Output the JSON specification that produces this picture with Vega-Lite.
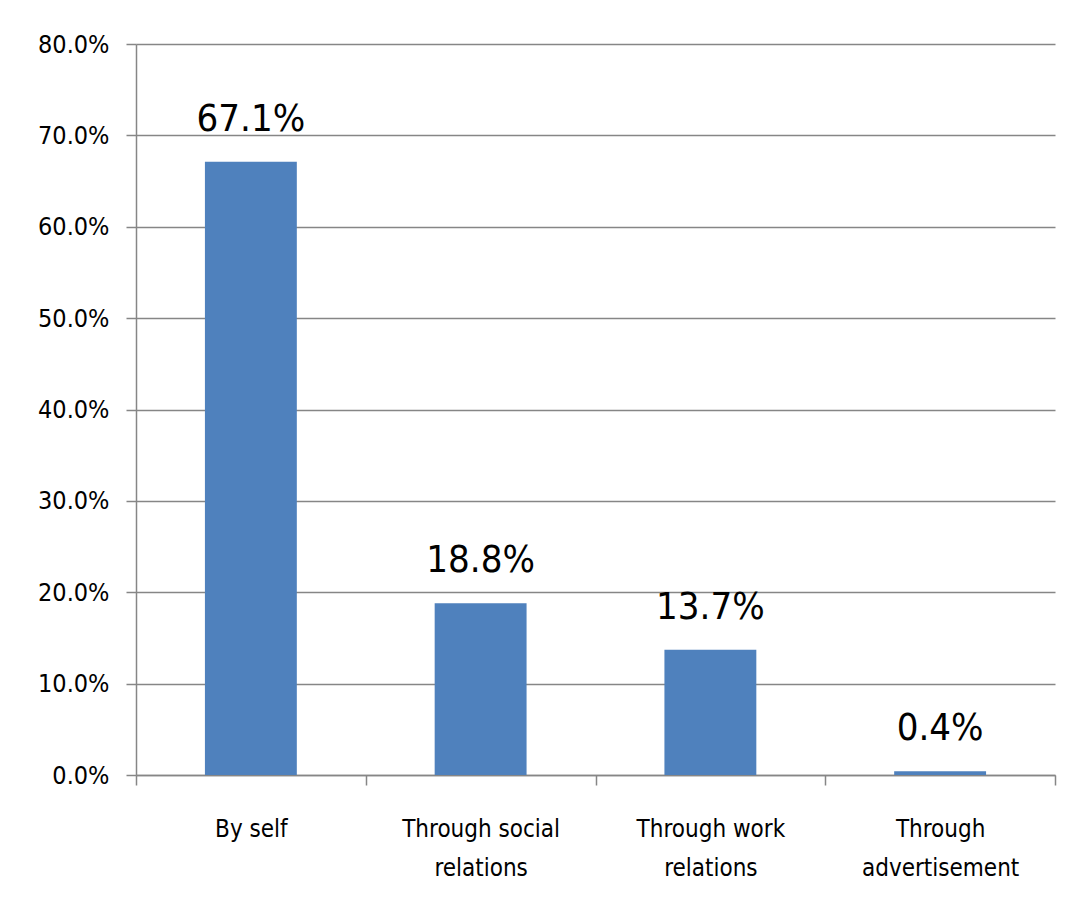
{
  "$schema": "https://vega.github.io/schema/vega-lite/v6.json",
  "width": 919,
  "height": 731,
  "autosize": {"type": "none"},
  "padding": {"left": 136, "top": 44, "right": 21, "bottom": 144},
  "background": "white",
  "config": {
    "view": {"stroke": null},
    "font": "DejaVu Sans Condensed, Liberation Sans, sans-serif",
    "axis": {"labelFont": "DejaVu Sans Condensed, Liberation Sans, sans-serif", "labelColor": "#000000"}
  },
  "data": {
    "values": [
      {"method": "By self", "share": 0.671},
      {"method": "Through social relations", "share": 0.188},
      {"method": "Through work relations", "share": 0.137},
      {"method": "Through advertisement", "share": 0.004}
    ]
  },
  "encoding": {
    "x": {
      "field": "method",
      "type": "nominal",
      "sort": null,
      "scale": {"paddingInner": 0, "paddingOuter": 0},
      "axis": {
        "title": null,
        "labelAngle": 0,
        "labelFontSize": 24,
        "labelLineHeight": 39,
        "labelPadding": 32,
        "labelExpr": "datum.label == 'By self' ? datum.label : [slice(datum.label, 0, lastindexof(datum.label, ' ')), slice(datum.label, lastindexof(datum.label, ' ') + 1)]",
        "tickBand": "extent",
        "tickSize": 10,
        "tickColor": "#868686",
        "domainColor": "#868686",
        "domainWidth": 1.5,
        "tickWidth": 1.5,
        "grid": false
      }
    },
    "y": {
      "field": "share",
      "type": "quantitative",
      "scale": {"domain": [0, 0.8]},
      "axis": {
        "title": null,
        "format": ".1%",
        "values": [0, 0.1, 0.2, 0.3, 0.4, 0.5, 0.6, 0.7, 0.8],
        "labelFontSize": 25,
        "labelPadding": 17,
        "tickSize": 10,
        "tickColor": "#868686",
        "domainColor": "#868686",
        "gridColor": "#868686",
        "gridWidth": 1.5,
        "domainWidth": 1.5,
        "tickWidth": 1.5,
        "grid": true
      }
    }
  },
  "layer": [
    {"mark": {"type": "bar", "color": "#4F81BD", "width": {"band": 0.4}}},
    {
      "mark": {"type": "text", "fontSize": 38, "baseline": "alphabetic", "dy": -31, "color": "#000000"},
      "encoding": {"text": {"field": "share", "type": "quantitative", "format": ".1%"}}
    }
  ]
}
